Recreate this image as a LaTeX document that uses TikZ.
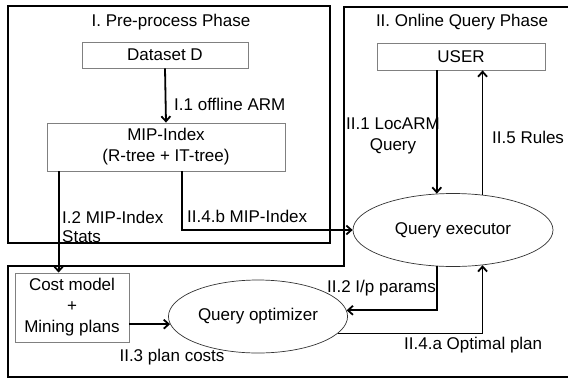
\documentclass[tikz,border=0pt]{standalone}
\usepackage{fontspec}
\setmainfont{Liberation Sans}
\usepackage{tikz}
\usetikzlibrary{arrows.meta, positioning, shapes.geometric}
\tikzset{>={Straight Barb[length=5pt,width=9pt]}}
\tikzset{
  phase/.style={line width=2.4pt},
  stepbox/.style={draw=gray, line width=0.8pt, rectangle, align=center},
  oval/.style={draw=black!80, line width=0.7pt, ellipse, align=center},
  flow/.style={->, line width=1.8pt},
  lbl/.style={inner sep=1pt, align=left}
}

\begin{document}
\begin{tikzpicture}[x=1pt, y=-1pt, font=\fontsize{17}{21}\selectfont]
			\useasboundingbox (0,0) rectangle (568,381);
			% phase frames
			\draw [phase] (8,6) rectangle (330,243);
			\draw [phase] (575,7) -- (344,7) -- (344,266) -- (8,266) -- (8,377) -- (575,377);
			\node [lbl] (pretitle) at (171,22) {I. Pre-process Phase};
			\node [lbl] (ontitle) at (462,22) {II. Online Query Phase};
			% boxes
			\node [stepbox, minimum width=166pt, minimum height=26pt] (dataset) at (165,55) {Dataset D};
			\node [stepbox, minimum width=238pt, minimum height=48pt] (mip) at (166,147) {MIP-Index\\(R-tree + IT-tree)};
			\node [stepbox, minimum width=168pt, minimum height=27pt] (user) at (461,56.5) {USER};
			\node [stepbox, minimum width=114pt, minimum height=69pt, inner sep=1pt] (costm) at (72,307.5) {Cost model\\+\\Mining plans};
			\node [oval, minimum width=200pt, minimum height=73pt] (qexec) at (453,230) {Query executor};
			\node [oval, minimum width=154pt, minimum height=73pt] (qopt) at (258,316.5) {Query optimizer};
			% connectors
			\draw [flow] (dataset.south) -- (mip.north);
			\node [lbl, anchor=west] (offl) at (173,104) {I.1 offline ARM};
			\draw [flow] ([xshift=12pt]mip.south west) -- ([xshift=12pt]mip.south west |- costm.north);
			\node [lbl, anchor=west] (stats) at (61,227) {I.2 MIP-Index\\[-2pt]Stats};
			\draw [flow] ([xshift=135pt]mip.south west) |- (qexec.west);
			\node [lbl, anchor=west] (mipb) at (186,216) {II.4.b MIP-Index};
			\draw [flow] (qexec.114 |- user.south) -- (qexec.114);
			\node [lbl, align=center] (locarm) at (393,136) {II.1 LocARM\\Query};
			\draw [flow] (qexec.50) -- (qexec.50 |- user.south);
			\node [lbl, anchor=west] (rules) at (491,137) {II.5 Rules};
			\draw [flow] (qexec.-114) |- (qopt.4);
			\node [lbl, anchor=east] (params) at (437,288) {II.2 I/p params};
			\draw [flow] (qopt.-12) -| (qexec.-50);
			\node [lbl, anchor=west] (optp) at (403,345) {II.4.a Optimal plan};
			\draw [flow] (qopt.-175 -| costm.east) -- (qopt.-175);
			\node [lbl] (costs) at (172,357) {II.3 plan costs};
		\end{tikzpicture}
\end{document}
